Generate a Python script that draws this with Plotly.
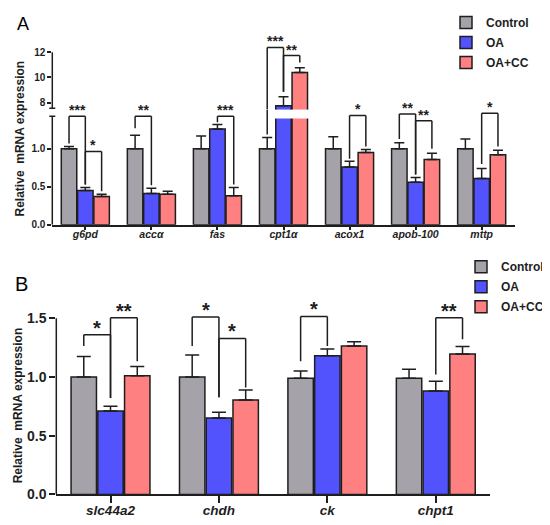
import plotly.graph_objects as go

# ---------------- data ----------------
series_names = ["Control", "OA", "OA+CC"]
series_colors = ["#A5A3A9", "#5353FD", "#FE8080"]

genes_a = ["g6pd", "accα", "fas", "cpt1α", "acox1", "apob-100", "mttp"]
control_a = [1.00, 1.00, 1.00, 1.00, 1.00, 1.00, 1.00]
control_a_err = [0.03, 0.18, 0.17, 0.15, 0.16, 0.08, 0.13]
oa_a = [0.45, 0.41, 1.26, 7.74, 0.76, 0.56, 0.61]
oa_a_err = [0.04, 0.07, 0.06, 0.72, 0.075, 0.06, 0.13]
cc_a = [0.37, 0.40, 0.38, 10.40, 0.95, 0.86, 0.92]
cc_a_err = [0.03, 0.04, 0.11, 0.38, 0.04, 0.08, 0.06]

genes_b = ["slc44a2", "chdh", "ck", "chpt1"]
control_b = [1.00, 1.00, 0.99, 0.99]
control_b_err = [0.175, 0.186, 0.06, 0.076]
oa_b = [0.71, 0.65, 1.18, 0.88]
oa_b_err = [0.04, 0.05, 0.058, 0.083]
cc_b = [1.01, 0.805, 1.264, 1.195]
cc_b_err = [0.08, 0.085, 0.036, 0.065]

# significance brackets: (gene index, bar i, bar j, top, top axis, left leg end, axis, right leg end, axis, label)
brackets_a = [
    (0, 0, 1, 1.43, "y", 1.07, "y", 0.53, "y", "***"),
    (0, 1, 2, 0.965, "y", 0.53, "y", 0.44, "y", "*"),
    (1, 0, 1, 1.43, "y", 1.27, "y", 0.52, "y", "**"),
    (2, 1, 2, 1.43, "y", 1.35, "y", 0.53, "y", "***"),
    (3, 0, 1, 12.39, "y2", 1.19, "y", 8.86, "y2", "***"),
    (3, 1, 2, 11.74, "y2", 8.86, "y2", 11.20, "y2", "**"),
    (4, 1, 2, 1.44, "y", 0.87, "y", 1.03, "y", "*"),
    (5, 0, 1, 1.46, "y", 1.13, "y", 0.66, "y", "**"),
    (5, 1, 2, 1.37, "y", 0.66, "y", 1.00, "y", "**"),
    (6, 1, 2, 1.47, "y", 0.80, "y", 1.03, "y", "*"),
]
brackets_b = [
    (0, 0, 1, 1.36, "y3", 1.264, "y3", 0.82, "y3", "*"),
    (0, 1, 2, 1.504, "y3", 0.82, "y3", 1.134, "y3", "**"),
    (1, 0, 1, 1.51, "y3", 1.264, "y3", 0.827, "y3", "*"),
    (1, 1, 2, 1.328, "y3", 0.827, "y3", 0.91, "y3", "*"),
    (2, 0, 1, 1.515, "y3", 1.134, "y3", 1.264, "y3", "*"),
    (3, 1, 2, 1.504, "y3", 1.022, "y3", 1.32, "y3", "**"),
]

# ---------------- layout constants ----------------
W, H = 550, 525
INK = "#1e1e1e"
FONT = "Liberation Sans, Arial, sans-serif"
BARGAP = 0.26
Y_LOW_RANGE = [0, 1.519]
Y_UP_RANGE = [7.45, 13.18]
Y_B_RANGE = [0, 1.584]

def px(v):
    return v / W

def py(v):
    return 1 - v / H

fig = go.Figure()

panel_a = [(control_a, control_a_err), (oa_a, oa_a_err), (cc_a, cc_a_err)]
panel_b = [(control_b, control_b_err), (oa_b, oa_b_err), (cc_b, cc_b_err)]

for k, (vals, errs) in enumerate(panel_a):
    for yax, show in (("y", True), ("y2", False)):
        fig.add_trace(go.Bar(
            x=genes_a, y=vals, name=series_names[k], xaxis="x", yaxis=yax,
            marker=dict(color=series_colors[k], line=dict(color=INK, width=1.5)),
            error_y=dict(type="data", array=errs, arrayminus=[0] * len(errs), symmetric=False,
                         color=INK, thickness=1.5, width=5),
            showlegend=show, legend="legend", legendgroup="a%d" % k, hoverinfo="skip",
        ))

for k, (vals, errs) in enumerate(panel_b):
    fig.add_trace(go.Bar(
        x=genes_b, y=vals, name=series_names[k], xaxis="x2", yaxis="y3",
        marker=dict(color=series_colors[k], line=dict(color=INK, width=1.5)),
        error_y=dict(type="data", array=errs, arrayminus=[0] * len(errs), symmetric=False,
                     color=INK, thickness=1.5, width=7),
        showlegend=True, legend="legend2", legendgroup="b%d" % k, hoverinfo="skip",
    ))

shapes = []
annotations = []

# white break through the bars in panel A
shapes.append(dict(type="rect", xref="x domain", x0=0, x1=1, yref="y", y0=1.40, y1=Y_LOW_RANGE[1],
                   fillcolor="white", line=dict(width=0), layer="above"))

def line(xref, x0, x1, yref, y0, y1):
    shapes.append(dict(type="line", xref=xref, x0=x0, x1=x1, yref=yref, y0=y0, y1=y1,
                       line=dict(color=INK, width=1.5), layer="above"))

# axis lines (broken y axis in A)
line("x domain", 0, 0, "y", 0, 1.43)
line("x domain", 0, 0, "y2", 7.55, 12)
line("x2 domain", 0, 0, "y3", 0, 1.5)
for yref, yv in (("y", 1.43), ("y2", 7.55)):
    shapes.append(dict(type="line", xref="x domain", xsizemode="pixel", xanchor=0, x0=-3, x1=3,
                       yref=yref, y0=yv, y1=yv, line=dict(color=INK, width=1.5), layer="above"))

def leg(xref, x, top, top_ax, bottom, bottom_ax):
    if top_ax == bottom_ax:
        line(xref, x, x, top_ax, bottom, top)
    else:
        line(xref, x, x, top_ax, Y_UP_RANGE[0], top)
        line(xref, x, x, bottom_ax, bottom, Y_LOW_RANGE[1])

def draw_brackets(brackets, xref, star_size, yshift):
    slot = (1 - BARGAP) / 3
    for g, i, j, top, tax, lb, lax, rb, rax, label in brackets:
        xl = g + (i - 1) * slot
        xr = g + (j - 1) * slot
        line(xref, xl, xr, tax, top, top)
        leg(xref, xl, top, tax, lb, lax)
        leg(xref, xr, top, tax, rb, rax)
        annotations.append(dict(x=(xl + xr) / 2, y=top, xref=xref, yref=tax, text=label,
                                showarrow=False, yanchor="bottom", xanchor="center", yshift=yshift,
                                font=dict(family=FONT, size=star_size, color=INK, weight="bold")))

draw_brackets(brackets_a, "x", 14, -4)
draw_brackets(brackets_b, "x2", 20, -6)

# panel labels and y titles
annotations += [
    dict(text="A", x=px(7), y=py(16), xref="paper", yref="paper", showarrow=False,
         xanchor="left", yanchor="middle", font=dict(family=FONT, size=18, color="black")),
    dict(text="B", x=px(5), y=py(280), xref="paper", yref="paper", showarrow=False,
         xanchor="left", yanchor="middle", font=dict(family=FONT, size=20, color="black")),
    dict(text="Relative  mRNA expression", x=px(11.5), y=py(133), xref="paper", yref="paper",
         showarrow=False, textangle=-90, xanchor="center", yanchor="middle",
         font=dict(family=FONT, size=12, color=INK, weight="bold")),
    dict(text="Relative  mRNA expression", x=px(9.5), y=py(404), xref="paper", yref="paper",
         showarrow=False, textangle=-90, xanchor="center", yanchor="middle",
         font=dict(family=FONT, size=12, color=INK, weight="bold")),
]

axis_common = dict(showgrid=False, zeroline=False, ticks="outside", tickwidth=1.5,
                   tickcolor=INK, linecolor=INK, linewidth=1.5, fixedrange=True)

fig.update_layout(
    width=W, height=H, margin=dict(l=0, r=0, t=0, b=0),
    paper_bgcolor="white", plot_bgcolor="white",
    barmode="group", bargap=BARGAP, bargroupgap=0.05,
    font=dict(family=FONT, color=INK),
    xaxis=dict(domain=[px(44.3), px(506.7)], anchor="y", type="category", range=[-0.5, 6.5],
               showline=True, ticklen=4, ticklabelstandoff=-5,
               tickfont=dict(family=FONT, size=10.5, color=INK, weight="bold", style="italic"),
               **axis_common),
    yaxis=dict(domain=[py(220), py(103)], anchor="x", range=Y_LOW_RANGE, showline=False,
               tickvals=[0, 0.5, 1.0], tickformat=".1f", ticklen=4,
               tickfont=dict(family=FONT, size=10, color=INK, weight="bold"), **axis_common),
    yaxis2=dict(domain=[py(103), py(30)], anchor="x", range=Y_UP_RANGE, showline=False,
                tickvals=[8, 10, 12], ticklen=4,
                tickfont=dict(family=FONT, size=10, color=INK, weight="bold"), **axis_common),
    xaxis2=dict(domain=[px(48.3), px(482)], anchor="y3", type="category", range=[-0.5, 3.5],
                showline=True, ticklen=7, ticklabelstandoff=-4,
                tickfont=dict(family=FONT, size=13.5, color=INK, weight="bold", style="italic"),
                **axis_common),
    yaxis3=dict(domain=[py(494), py(305)], anchor="x2", range=Y_B_RANGE, showline=False,
                tickvals=[0, 0.5, 1.0, 1.5], tickformat=".1f", ticklen=6,
                tickfont=dict(family=FONT, size=14, color=INK, weight="bold"), **axis_common),
    legend=dict(x=px(438), y=1, xanchor="left", yanchor="top", bgcolor="rgba(0,0,0,0)",
                font=dict(family=FONT, size=12, color=INK, weight="bold"), tracegroupgap=1),
    legend2=dict(x=px(453), y=py(248), xanchor="left", yanchor="top", bgcolor="rgba(0,0,0,0)",
                 font=dict(family=FONT, size=12, color=INK, weight="bold"), tracegroupgap=1),
    shapes=shapes, annotations=annotations, showlegend=True,
)

fig.write_html("out.html", config={"displayModeBar": False})
